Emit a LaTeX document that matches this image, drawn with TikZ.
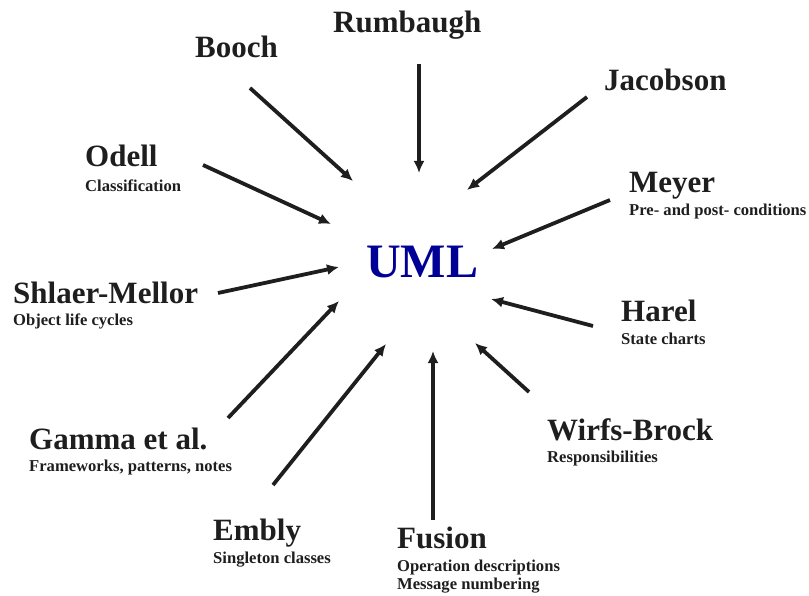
\documentclass[tikz,border=0pt]{standalone}
\usepackage{fontspec}
\setmainfont{Liberation Serif}
\usepackage{tikz}
\usetikzlibrary{arrows.meta}

\definecolor{umlblue}{RGB}{0,0,150}
\definecolor{ink}{RGB}{30,30,30}

\tikzset{
	who/.style={font=\fontsize{31}{31}\selectfont\bfseries, text=ink, anchor=base west, inner sep=0pt},
	what/.style={font=\fontsize{16.6}{16.6}\selectfont\bfseries, text=ink, anchor=base west, inner sep=0pt},
	feed/.style={line width=3.8pt, draw=ink, -{Latex[length=12pt,width=11pt]}}
}

\begin{document}
\begin{tikzpicture}[x=1pt,y=-1pt]
	\useasboundingbox (0,0) rectangle (809,596);
	% Centre
	\node[who, font=\fontsize{48}{48}\selectfont\bfseries, text=umlblue] (uml) at (366,277) {UML};
	% Contributors
	\node[who] (booch) at (195,58) {Booch};
	\node[who] (rumbaugh) at (333,33) {Rumbaugh};
	\node[who] (jacobson) at (604,91) {Jacobson};
	\node[who] (odell) at (85,167) {Odell};
	\node[what] (odell-sub) at (85,192) {Classification};
	\node[who] (meyer) at (629,193) {Meyer};
	\node[what] (meyer-sub) at (629,216) {Pre- and post- conditions};
	\node[who] (shlaer) at (13,304) {Shlaer-Mellor};
	\node[what] (shlaer-sub) at (13,326) {Object life cycles};
	\node[who] (harel) at (621,321) {Harel};
	\node[what] (harel-sub) at (621,344) {State charts};
	\node[who] (wirfs) at (547,440) {Wirfs-Brock};
	\node[what] (wirfs-sub) at (547,462) {Responsibilities};
	\node[who] (gamma) at (29,449) {Gamma et al.};
	\node[what] (gamma-sub) at (29,471) {Frameworks, patterns, notes};
	\node[who] (embly) at (213,540) {Embly};
	\node[what] (embly-sub) at (213,563) {Singleton classes};
	\node[who] (fusion) at (397,548) {Fusion};
	\node[what] (fusion-sub) at (397,571) {Operation descriptions};
	\node[what] (fusion-sub2) at (397,589) {Message numbering};
	% Arrow ends
	\coordinate (booch-t) at (250,88);      \coordinate (booch-h) at (353,181);
	\coordinate (rumbaugh-t) at (419,64);   \coordinate (rumbaugh-h) at (419,173);
	\coordinate (jacobson-t) at (587,97);   \coordinate (jacobson-h) at (467,190);
	\coordinate (odell-t) at (203,165);     \coordinate (odell-h) at (331,224);
	\coordinate (meyer-t) at (610,200);     \coordinate (meyer-h) at (492,249);
	\coordinate (shlaer-t) at (218,293);    \coordinate (shlaer-h) at (339,267);
	\coordinate (harel-t) at (593,326);     \coordinate (harel-h) at (491,299);
	\coordinate (wirfs-t) at (529,392);     \coordinate (wirfs-h) at (475,343);
	\coordinate (gamma-t) at (228,418);     \coordinate (gamma-h) at (339,301);
	\coordinate (embly-t) at (273,485);     \coordinate (embly-h) at (386,344);
	\coordinate (fusion-t) at (433,520);    \coordinate (fusion-h) at (433,351);
	% Arrows
	\foreach \src in {booch,rumbaugh,jacobson,odell,meyer,shlaer,harel,wirfs,gamma,embly,fusion}
		\draw[feed] (\src-t) -- (\src-h);
\end{tikzpicture}
\end{document}
